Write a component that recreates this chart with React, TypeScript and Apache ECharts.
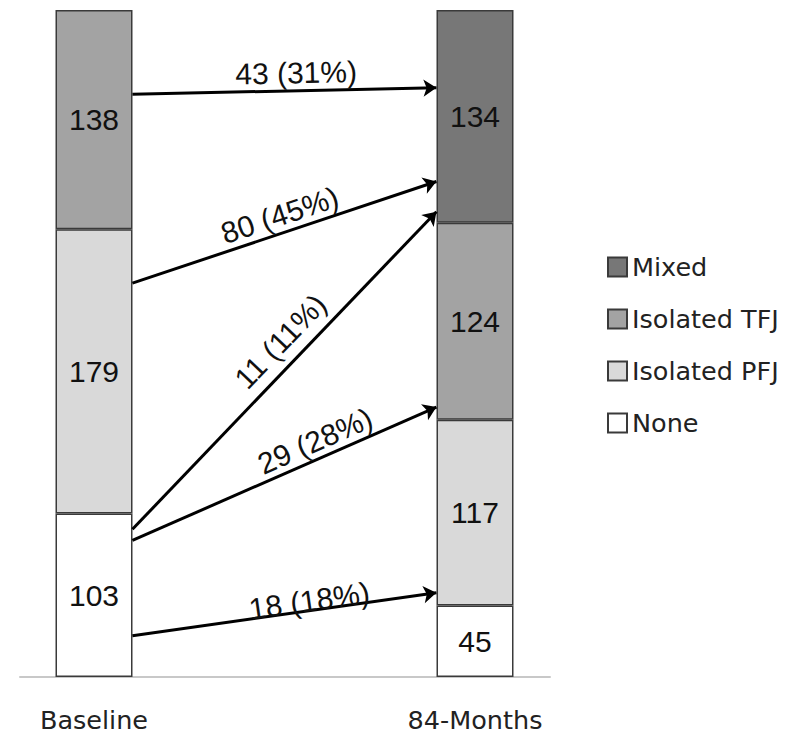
import React, { useEffect, useRef } from "react";
import * as echarts from "echarts";

const categories = ["Baseline", "84-Months"];
const noneValues = [103, 45];
const pfjValues = [179, 117];
const tfjValues = [138, 124];
const mixedValues: (number | string)[] = ["-", 134];
const legendOrder = ["Mixed", "Isolated TFJ", "Isolated PFJ", "None"];

const transitionLabels = ["43 (31%)", "80 (45%)", "11 (11%)", "29 (28%)", "18 (18%)"];
const transitionFrom = [367, 248, 93, 86, 26];
const transitionTo = [371, 312, 293, 170, 53];

const BAR_W = 77;
const PX_PER_UNIT = 381;
const HALF = BAR_W / 2 / PX_PER_UNIT;
const LABEL_OFFSETS = [
  [12, 0],
  [0, 0],
  [16, -6],
  [40, 0],
  [26, 8],
];

export default function App() {
  const ref = useRef<HTMLDivElement>(null);
  useEffect(() => {
    if (!ref.current) return;
    const chart = echarts.init(ref.current, null, { renderer: "svg" });
    const barLabel = {
      show: true,
      position: "inside",
      fontFamily: "Liberation Sans",
      fontSize: 30,
      color: "#111",
    };
    const mkBar = (name: string, vals: (number | string)[], color: string) => ({
      type: "bar",
      name,
      stack: "total",
      barWidth: BAR_W,
      clip: false,
      xAxisIndex: 0,
      yAxisIndex: 0,
      data: vals,
      itemStyle: { color, borderColor: "#3a3a3a", borderWidth: 1.5 },
      label: barLabel,
      emphasis: { disabled: true },
    });
    chart.setOption({
      animation: false,
      backgroundColor: "#fff",
      grid: [
        { left: 94, right: 325, top: 10, bottom: 66 },
        { left: 20, right: 250, top: 10, bottom: 66 },
      ],
      xAxis: [
        {
          type: "category",
          gridIndex: 0,
          data: categories,
          boundaryGap: false,
          axisLine: { show: false },
          axisTick: { show: false },
          axisLabel: {
            fontFamily: "DejaVu Sans",
            fontSize: 25.5,
            color: "#222",
            margin: 30,
          },
        },
        {
          type: "value",
          gridIndex: 1,
          min: -0.194,
          max: 1.197,
          splitLine: { show: false },
          axisTick: { show: false },
          axisLabel: { show: false },
          axisLine: { show: true, lineStyle: { color: "#c8c8c8", width: 2 } },
        },
      ],
      yAxis: [
        { type: "value", gridIndex: 0, min: 0, max: 420, show: false },
        { type: "value", gridIndex: 1, min: 0, max: 420, show: false },
      ],
      legend: {
        orient: "vertical",
        left: 602,
        top: 249,
        itemWidth: 19,
        itemHeight: 19,
        itemGap: 26,
        icon: "rect",
        data: legendOrder,
        textStyle: { fontFamily: "DejaVu Sans", fontSize: 25.5, color: "#222" },
      },
      series: [
        mkBar("None", noneValues, "#ffffff"),
        mkBar("Isolated PFJ", pfjValues, "#d9d9d9"),
        mkBar("Isolated TFJ", tfjValues, "#a3a3a3"),
        mkBar("Mixed", mixedValues, "#777777"),
        {
          type: "lines",
          coordinateSystem: "cartesian2d",
          xAxisIndex: 1,
          yAxisIndex: 1,
          z: 5,
          symbol: ["none", "arrow"],
          symbolSize: 13,
          lineStyle: { color: "#000", width: 3, opacity: 1, curveness: 0 },
          label: {
            show: true,
            position: "middle",
            distance: 3,
            fontFamily: "Liberation Sans",
            fontSize: 30,
            color: "#111",
            formatter: (p: any) => p.name,
          },
          emphasis: { disabled: true },
          data: transitionLabels.map((name, i) => ({
            name,
            coords: [
              [HALF, transitionFrom[i]],
              [1 - HALF, transitionTo[i]],
            ],
            label: { offset: LABEL_OFFSETS[i] },
          })),
        },
      ],
    });
    return () => chart.dispose();
  }, []);
  return <div ref={ref} style={{ width: 800, height: 743, position: "absolute", left: 0, top: 0 }} />;
}
